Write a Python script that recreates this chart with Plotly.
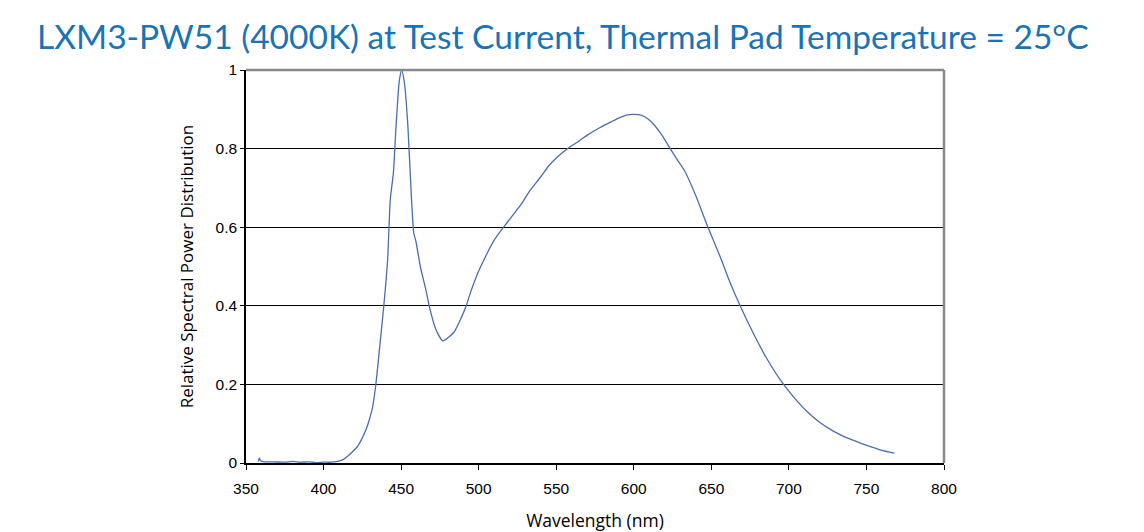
import plotly.graph_objects as go

wavelength_nm = [358, 358.6, 359.5, 362, 368, 375, 380, 385, 390, 395, 400, 405, 409, 412.3, 415.5,
                 419, 421.9, 424.5, 427.4, 429.5, 431.7, 433.8, 436, 438.8, 441.3, 443, 445,
                 446.7, 448.9, 450.4, 452.2, 454.4, 456.5, 458.2, 459.6, 462.4, 466, 468.2,
                 472.5, 476.8, 480, 484.3, 488.6, 491.8, 495, 499.4, 505, 510, 517.6, 527.3,
                 533, 540.2, 545, 550.9, 557.4, 563, 570.3, 578, 585.3, 591, 596, 600, 604.7,
                 609, 613.2, 618, 624, 628, 632.6, 640, 647.7, 656.2, 662, 668, 677.7, 686.3,
                 696, 705.6, 712, 720.7, 727, 733.6, 740, 746.5, 753, 759.4, 768]
relative_spd = [0.004, 0.013, 0.005, 0.003, 0.003, 0.002, 0.004, 0.002, 0.003, 0.001, 0.002, 0.002, 0.004, 0.008, 0.017,
                0.03, 0.042, 0.06, 0.085, 0.11, 0.144, 0.203, 0.288, 0.398, 0.517, 0.67, 0.737,
                0.855, 0.974, 1.0, 0.965, 0.855, 0.686, 0.584, 0.563, 0.5, 0.44, 0.398,
                0.339, 0.311, 0.318, 0.334, 0.368, 0.398, 0.437, 0.483, 0.53, 0.567, 0.608, 0.658,
                0.693, 0.729, 0.755, 0.779, 0.80, 0.815, 0.835, 0.853, 0.868, 0.879, 0.886, 0.887, 0.885,
                0.876, 0.86, 0.835, 0.797, 0.772, 0.745, 0.68, 0.601, 0.52, 0.46, 0.405, 0.325, 0.262,
                0.203, 0.156, 0.13, 0.101, 0.085, 0.071, 0.06, 0.05, 0.041, 0.033, 0.025]

x_ticks = [350, 400, 450, 500, 550, 600, 650, 700, 750, 800]
y_ticks = [0, 0.2, 0.4, 0.6, 0.8, 1]
y_tick_labels = ["0", "0.2", "0.4", "0.6", "0.8", "1"]

fig = go.Figure()
fig.add_trace(go.Scatter(x=wavelength_nm, y=relative_spd, mode="lines",
                         line=dict(color="#4a6eae", width=1.3, shape="spline", smoothing=0.6),
                         showlegend=False, hoverinfo="x+y"))

axis_font = dict(family="Liberation Sans, Arial, sans-serif", size=15.5, color="#000000")

fig.update_layout(
    width=1144, height=532,
    margin=dict(l=246, r=200, t=70, b=69),
    paper_bgcolor="white", plot_bgcolor="white",
    title=dict(text="LXM3-PW51 (4000K) at Test Current, Thermal Pad Temperature = 25°C",
               x=0.492, xanchor="center", y=0.93, yanchor="middle",
               font=dict(family="Lato, sans-serif", size=33.5, color="#1874b6")),
    xaxis=dict(range=[350, 800], tickvals=x_ticks, ticks="outside", ticklen=5,
               tickcolor="black", showline=True, linecolor="black", linewidth=1.5,
               showgrid=False, zeroline=False, tickfont=axis_font, ticklabelstandoff=6,
               automargin=False,
               title=dict(text="Wavelength (nm)", font=dict(family="Open Sans, sans-serif", size=17.5, color="black"),
                          standoff=26)),
    yaxis=dict(range=[0, 1], tickvals=y_ticks, ticktext=y_tick_labels, ticks="outside",
               ticklen=4, tickcolor="black", showline=True, linecolor="black", linewidth=1.5,
               showgrid=True, gridcolor="black", gridwidth=1, zeroline=False, tickfont=axis_font,
               automargin=False,
               title=dict(text="Relative Spectral Power Distribution",
                          font=dict(family="Open Sans, sans-serif", size=17, color="black"),
                          standoff=18)),
)

# grey frame on top and right edges of plot area
fig.add_shape(type="line", xref="paper", yref="paper", x0=0, x1=1, y0=1, y1=1,
              line=dict(color="#888888", width=2.5))
fig.add_shape(type="line", xref="paper", yref="paper", x0=1, x1=1, y0=0, y1=1,
              line=dict(color="#888888", width=2.5))

fig.write_html("out.html")
